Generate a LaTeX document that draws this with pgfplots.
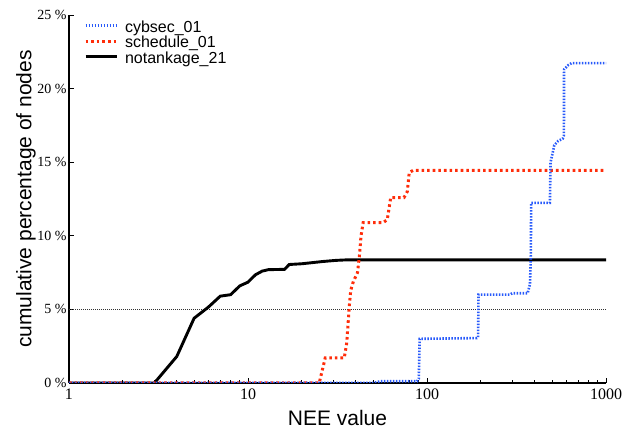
\documentclass[border=0pt]{standalone}
\usepackage{fontspec}
\setmainfont{Liberation Serif}
\setsansfont{Liberation Sans}
\usepackage{pgfplots}
\pgfplotsset{compat=1.18}
\definecolor{cblue}{RGB}{40,90,250}
\definecolor{cred}{RGB}{255,45,10}
\begin{document}
\begin{tikzpicture}
\path[use as bounding box] (-69pt,-52pt) rectangle (569pt,383pt);
\begin{axis}[
  at={(0,0)}, anchor=south west,
  scale only axis, width=537pt, height=368pt,
  xmode=log, xmin=1, xmax=1000, ymin=0, ymax=25,
  axis x line*=bottom, axis y line*=left,
  axis line style={-, line width=1.3pt},
  tick align=inside,
  major tick length=5pt, minor tick length=3pt,
  every tick/.style={black, line width=0.8pt},
  xtick={1,10,100,1000}, xticklabels={1,10,100,1000},
  ytick={0,5,10,15,20,25},
  yticklabels={0 \%,5 \%,10 \%,15 \%,20 \%,25 \%},
  /pgf/number format/assume math mode=true,
  xticklabel style={font=\fontsize{16}{16}\selectfont, yshift=-2pt},
  yticklabel style={font=\fontsize{14}{14}\selectfont, xshift=1pt},
  xlabel={NEE value}, ylabel={cumulative percentage of nodes},
  label style={font=\sffamily\fontsize{21}{21}\selectfont},
  xlabel style={at={(axis description cs:0.5,-0.095)}, anchor=center},
  ylabel style={at={(axis description cs:-0.080,0.5)}, anchor=center},
  legend style={draw=none, fill=none, at={(axis description cs:0.022,0.99)},
    anchor=north west, font=\sffamily\fontsize{16}{16}\selectfont,
    nodes={text height=11.5pt, text depth=4pt, inner sep=0pt},
    column sep=7pt},
  legend cell align=left,
  legend image code/.code={\draw[#1] (0pt,0.3em) -- (31pt,0.3em);},
]
% 5 % reference line
\addplot[forget plot, black!80, line width=1.7pt, dash pattern=on 1pt off 1pt]
  coordinates {(1,5) (1000,5)};
% notankage_21
\addplot[forget plot, black, line width=2.9pt] coordinates {
  (1,0) (3,0) (4,1.8) (5,4.4) (6,5.15) (7,5.9) (8,6.0) (9,6.6) (10,6.85)
  (11,7.35) (12,7.6) (13,7.7) (16,7.72) (17,8.05) (20,8.1) (26,8.25)
  (31,8.33) (35,8.36) (1000,8.36)
};
% schedule_01
\addplot[forget plot, cred, line width=3pt, dash pattern=on 2.6pt off 3pt] coordinates {
  (1,0) (25,0) (27,1.7) (34.5,1.7) (35.6,2.7) (36.8,5.2) (37.5,6.3)
  (38.8,6.9) (40.9,7.5) (41.9,8.6) (42.8,10.0) (44,10.9) (57,10.9)
  (60,11.1) (62.7,12.6) (74.4,12.6) (77.6,13.0) (79.6,14.3) (83.8,14.45)
  (1000,14.45)
};
% cybsec_01
\addplot[forget plot, cblue, line width=2.6pt, dash pattern=on 1.5pt off 1.5pt] coordinates {
  (1,0) (50,0) (55,0.12) (88,0.12) (90,0.3) (91,3.0) (190,3.05) (193,3.1)
  (194,6.0) (290,6.0) (300,6.1) (365,6.1) (376,6.7) (380,8.4) (382,12.24)
  (486,12.24) (490,15.0) (504,15.65) (514,16.15) (541,16.45) (573,16.6)
  (582,16.8) (583,21.3) (616,21.6) (643,21.73) (1000,21.73)
};
\addlegendimage{cblue, line width=2.6pt, dash pattern=on 1.5pt off 1.5pt}
\addlegendentry{cybsec\_01}
\addlegendimage{cred, line width=3pt, dash pattern=on 2.6pt off 3pt}
\addlegendentry{schedule\_01}
\addlegendimage{black, line width=2.9pt}
\addlegendentry{notankage\_21}
\end{axis}
\end{tikzpicture}
\end{document}
